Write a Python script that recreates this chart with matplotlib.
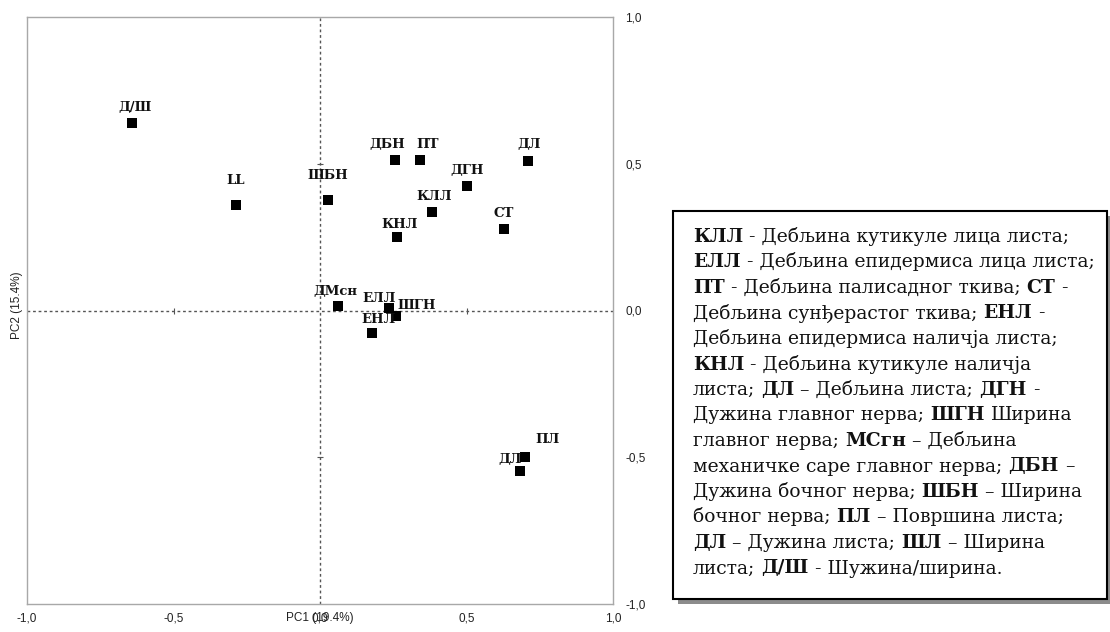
import matplotlib
matplotlib.use("Agg")
import matplotlib.pyplot as plt
from matplotlib.patches import Rectangle

# PCA loadings of leaf anatomy traits
traits = ['Д/Ш', 'LL', 'ШБН', 'ДБН', 'ПТ', 'ДЛ', 'ДГН', 'КЛЛ', 'СТ', 'КНЛ',
          'ДМсн', 'ЕЛЛ', 'ШГН', 'ЕНЛ', 'ПЛ', 'ДЛ']
pc1 = [-0.643, -0.288, 0.026, 0.255, 0.341, 0.709, 0.502, 0.382, 0.627, 0.262,
       0.063, 0.234, 0.259, 0.176, 0.699, 0.682]
pc2 = [0.640, 0.361, 0.378, 0.513, 0.513, 0.510, 0.425, 0.336, 0.279, 0.252,
       0.017, 0.007, -0.018, -0.076, -0.498, -0.546]

tick_vals = [-1.0, -0.5, 0.0, 0.5, 1.0]
tick_labels = ['-1,0', '-0,5', '0,0', '0,5', '1,0']

xlab = 'PC1 (19.4%)'
ylab = 'PC2 (15.4%)'

# label offsets from marker, in pixels
label_off = [(3, 15), (0, 24), (0, 24), (-7, 15), (8, 15), (1, 16), (0, 15), (2, 15),
             (0, 15), (3, 12), (-3, 14), (-9, 10), (21, 10), (7, 13), (23, 17), (-10, 11)]

# legend text: list of lines, each a list of (text, bold) pieces
legend_lines = [
    [('КЛЛ', True), (' - Дебљина кутикуле лица листа;', False)],
    [('ЕЛЛ', True), (' - Дебљина епидермиса лица листа;', False)],
    [('ПТ', True), (' - Дебљина палисадног ткива; ', False), ('СТ', True), (' -', False)],
    [('Дебљина сунђерастог ткива; ', False), ('ЕНЛ', True), (' -', False)],
    [('Дебљина епидермиса наличја листа;', False)],
    [('КНЛ', True), (' - Дебљина кутикуле наличја', False)],
    [('листа; ', False), ('ДЛ', True), (' – Дебљина листа; ', False), ('ДГН', True), (' -', False)],
    [('Дужина главног нерва; ', False), ('ШГН', True), (' Ширина', False)],
    [('главног нерва; ', False), ('МСгн', True), (' – Дебљина', False)],
    [('механичке саре главног нерва; ', False), ('ДБН', True), (' –', False)],
    [('Дужина бочног нерва; ', False), ('ШБН', True), (' – Ширина', False)],
    [('бочног нерва; ', False), ('ПЛ', True), (' – Површина листа;', False)],
    [('ДЛ', True), (' – Дужина листа; ', False), ('ШЛ', True), (' – Ширина', False)],
    [('листа; ', False), ('Д/Ш', True), (' - Шужина/ширина.', False)],
]

W, H = 1110, 632
fig = plt.figure(figsize=(W / 100, H / 100), dpi=100)
ax = fig.add_axes([27 / W, 1 - 604 / H, 586 / W, 587 / H])

ax.set_xlim(-1, 1)
ax.set_ylim(-1, 1)
for s in ax.spines.values():
    s.set_color('#a8a8a8')
    s.set_linewidth(1)

ax.axhline(0, color='#555555', lw=1, ls=(0, (2, 2)), zorder=1)
ax.axvline(0, color='#555555', lw=1, ls=(0, (2, 2)), zorder=1)
# little ticks sitting on the zero lines
ax.plot([-0.5, 0.5], [0, 0], ls='none', marker='|', ms=4, mew=0.8, color='#555555')
ax.plot([0, 0], [-0.5, 0.5], ls='none', marker='_', ms=4, mew=0.8, color='#555555')

ax.set_xticks(tick_vals)
ax.set_xticklabels(tick_labels)
ax.set_yticks(tick_vals)
ax.set_yticklabels(tick_labels)
ax.yaxis.tick_right()
ax.tick_params(length=0, labelsize=8.5, labelcolor='#222222')
ax.tick_params(axis='x', pad=6)
ax.tick_params(axis='y', pad=9)
for t in ax.get_xticklabels() + ax.get_yticklabels():
    t.set_family(['Liberation Sans', 'DejaVu Sans'])

ax.scatter(pc1, pc2, marker='s', s=62, color='black', zorder=3, linewidths=0)
for name, x, y, off in zip(traits, pc1, pc2, label_off):
    ax.annotate(name, (x, y), xytext=off, textcoords='offset pixels',
                ha='center', va='center', fontsize=9.5, fontweight='bold',
                family='DejaVu Serif', color='#111111')

ax.annotate(xlab, xy=(0.5, 0), xycoords='axes fraction', xytext=(0, -6),
            textcoords='offset points', ha='center', va='top', fontsize=8.5,
            family=['Liberation Sans', 'DejaVu Sans'], color='#222222')
fig.text(17 / W, 1 - 305 / H, ylab, rotation=90, ha='center', va='center',
         fontsize=8.5, family=['Liberation Sans', 'DejaVu Sans'], color='#222222')

# legend box with drop shadow
bx0, bx1, by0, by1 = 673, 1107, 211, 599
fig.patches.append(Rectangle(((bx0 + 5) / W, 1 - (by1 + 5) / H), (bx1 - bx0) / W,
                             (by1 - by0) / H, transform=fig.transFigure,
                             facecolor='#8c8c8c', edgecolor='none'))
fig.patches.append(Rectangle((bx0 / W, 1 - by1 / H), (bx1 - bx0) / W, (by1 - by0) / H,
                             transform=fig.transFigure, facecolor='white',
                             edgecolor='black', linewidth=1.5))

# lay the pieces out one after another, measuring each with the renderer
renderer = fig.canvas.get_renderer()
fs = 13.5


def text_w(s, weight):
    t = fig.text(0, 0, s, fontsize=fs, family='DejaVu Serif', fontweight=weight)
    w = t.get_window_extent(renderer).width
    t.remove()
    return w


space_w = text_w('н н', 'normal') - text_w('нн', 'normal')

y_line = 242
for line in legend_lines:
    x = 693.0
    for txt, bold in line:
        weight = 'bold' if bold else 'normal'
        core = txt.strip(' ')
        lead = len(txt) - len(txt.lstrip(' '))
        trail = len(txt) - len(txt.rstrip(' '))
        x += lead * space_w
        t = fig.text(x / W, 1 - y_line / H, core, ha='left', va='baseline',
                     fontsize=fs, family='DejaVu Serif', fontweight=weight,
                     color='#111111')
        x += t.get_window_extent(renderer).width + trail * space_w
    y_line += 25.5

fig.savefig('out.png', dpi=100)
